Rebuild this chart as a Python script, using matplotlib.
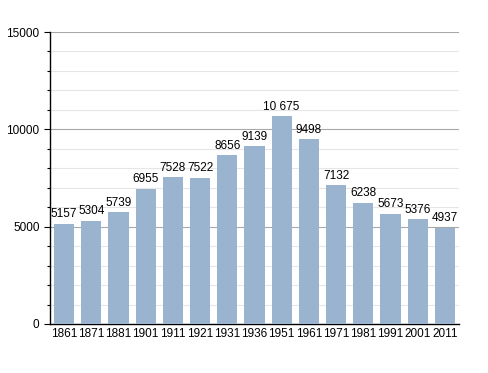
import matplotlib.pyplot as plt
from matplotlib.ticker import MultipleLocator

plt.rcParams["font.family"] = ["Liberation Sans", "DejaVu Sans"]

years = ["1861", "1871", "1881", "1901", "1911", "1921", "1931", "1936",
         "1951", "1961", "1971", "1981", "1991", "2001", "2011"]
population = [5157, 5304, 5739, 6955, 7528, 7522, 8656, 9139,
              10675, 9498, 7132, 6238, 5673, 5376, 4937]

fig = plt.figure(figsize=(4.88, 3.73), dpi=100)
ax = fig.add_axes([0.1025, 0.1314, 0.838, 0.7828])

x = range(len(years))
ax.bar(x, population, width=0.74, color="#9ab3cf", zorder=3)

for i, v in enumerate(population):
    label = f"{v:,}".replace(",", " ") if v >= 10000 else str(v)
    ax.text(i, v + 180, label, ha="center", va="bottom", fontsize=8.5, zorder=4)

ax.set_xlim(-0.52, len(years) - 0.48)
ax.set_ylim(0, 15000)
ax.set_xticks(list(x))
ax.set_xticklabels(years, fontsize=8.5)
ax.yaxis.set_minor_locator(MultipleLocator(1000))
ax.set_yticks([0, 5000, 10000, 15000])
ax.set_yticklabels(["0", "5000", "10000", "15000"], fontsize=8.5)

ax.grid(axis="y", which="major", color="#a8a8a8", linewidth=0.8, zorder=0)
ax.grid(axis="y", which="minor", color="#e6e6e6", linewidth=0.8, zorder=0)
ax.tick_params(axis="x", length=0, pad=3)
ax.tick_params(axis="y", which="major", length=4.5, width=0.8, pad=3)
ax.tick_params(axis="y", which="minor", length=2.5, width=0.8)
for s in ["top", "right"]:
    ax.spines[s].set_visible(False)
ax.spines["left"].set_linewidth(1)
ax.spines["bottom"].set_linewidth(1)

fig.savefig("out.png", dpi=100)
